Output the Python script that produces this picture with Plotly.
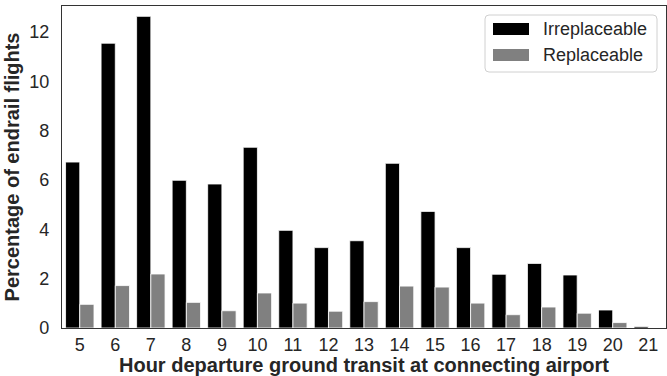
import plotly.graph_objects as go

hours = [5, 6, 7, 8, 9, 10, 11, 12, 13, 14, 15, 16, 17, 18, 19, 20, 21]
irreplaceable = [6.73, 11.55, 12.64, 5.99, 5.84, 7.33, 3.96, 3.26, 3.54, 6.68,
                 4.73, 3.26, 2.18, 2.62, 2.15, 0.73, 0.06]
replaceable = [0.96, 1.72, 2.19, 1.04, 0.70, 1.42, 1.01, 0.68, 1.07, 1.70,
               1.66, 1.01, 0.54, 0.85, 0.60, 0.22, 0.0]
series_names = ["Irreplaceable", "Replaceable"]
series_colors = ["#000000", "#808080"]
y_ticks = [0, 2, 4, 6, 8, 10, 12]

FONT = "Liberation Sans, Arial, sans-serif"
W, H = 667, 376
ML, MR, MT, MB = 62, 1, 6, 48
PW, PH = W - ML - MR, H - MT - MB


def px(x):
    return (x - ML) / PW


def py(y):
    return (H - MB - y) / PH


fig = go.Figure()
cats = [str(h) for h in hours]
for name, vals, col in zip(series_names, [irreplaceable, replaceable], series_colors):
    fig.add_trace(go.Bar(
        x=cats, y=vals, name=name,
        marker=dict(color=col, line=dict(color="#ffffff", width=0.8)),
        showlegend=False,
    ))

# custom legend (wide patches like matplotlib)
x0, x1, y0, y1, r = 485, 657, 15, 72, 4
path = (f"M {px(x0 + r)} {py(y0)} L {px(x1 - r)} {py(y0)} "
        f"Q {px(x1)} {py(y0)} {px(x1)} {py(y0 + r)} L {px(x1)} {py(y1 - r)} "
        f"Q {px(x1)} {py(y1)} {px(x1 - r)} {py(y1)} L {px(x0 + r)} {py(y1)} "
        f"Q {px(x0)} {py(y1)} {px(x0)} {py(y1 - r)} L {px(x0)} {py(y0 + r)} "
        f"Q {px(x0)} {py(y0)} {px(x0 + r)} {py(y0)} Z")
shapes = [dict(type="path", xref="paper", yref="paper", path=path,
               line=dict(color="#d0d0d0", width=1), fillcolor="white")]
annotations = []
for i, (name, col) in enumerate(zip(series_names, series_colors)):
    cy = 29 + i * 26
    shapes.append(dict(type="rect", xref="paper", yref="paper",
                       x0=px(493), x1=px(529), y0=py(cy - 6), y1=py(cy + 6),
                       fillcolor=col, line=dict(width=0)))
    annotations.append(dict(xref="paper", yref="paper", x=px(541), y=py(cy),
                            text=name, showarrow=False, xanchor="left",
                            yanchor="middle",
                            font=dict(family=FONT, size=18, color="#262626")))

fig.update_layout(
    width=W, height=H,
    margin=dict(l=ML, r=MR, t=MT, b=MB),
    paper_bgcolor="white", plot_bgcolor="white",
    barmode="group", bargap=0.2, bargroupgap=0,
    font=dict(family=FONT, size=18, color="#262626"),
    shapes=shapes, annotations=annotations,
    showlegend=False,
)
fig.update_xaxes(
    type="category", range=[-0.5, len(hours) - 0.5],
    showline=True, linecolor="#333333", linewidth=1.25, mirror=True,
    showgrid=False, zeroline=False, ticks="",
    tickfont=dict(family=FONT, size=18, color="#262626"),
    title=dict(text="<b>Hour departure ground transit at connecting airport</b>",
               font=dict(family=FONT, size=20, color="#262626"), standoff=2),
)
fig.update_yaxes(
    range=[0, 13.06], tickvals=y_ticks,
    showline=True, linecolor="#333333", linewidth=1.25, mirror=True,
    showgrid=False, zeroline=False, ticks="", ticklabelstandoff=8,
    tickfont=dict(family=FONT, size=18, color="#262626"),
    title=dict(text="<b>Percentage of endrail flights</b>",
               font=dict(family=FONT, size=20, color="#262626"), standoff=4),
)

fig.write_html("out.html",
               config={"displayModeBar": False},
               post_script="document.body.style.margin='0px';document.body.style.overflow='hidden';")
